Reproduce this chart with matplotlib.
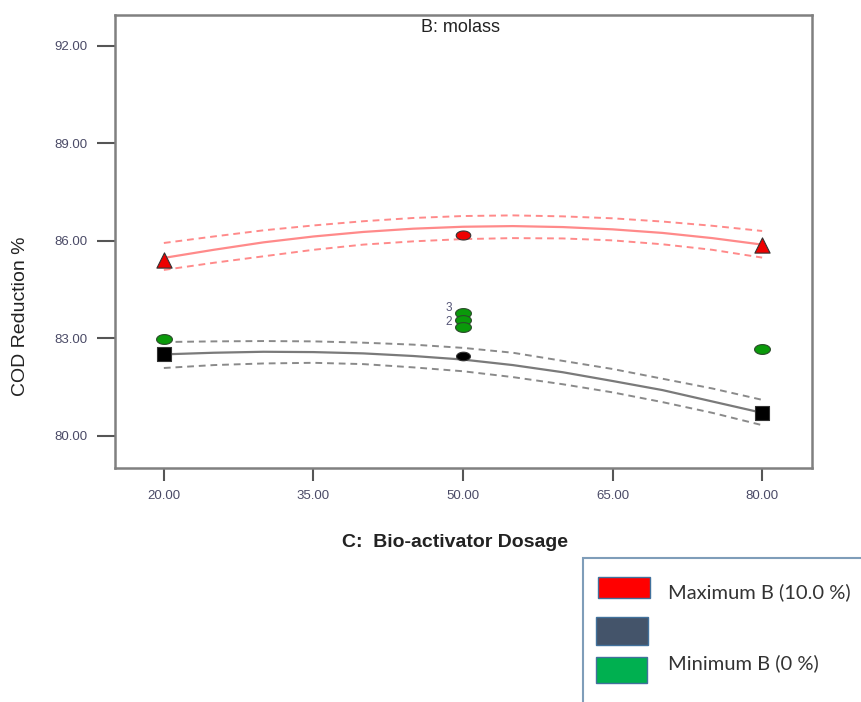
import numpy as np
import matplotlib
matplotlib.use("Agg")
import matplotlib.pyplot as plt
from matplotlib.path import Path
from matplotlib.patches import Rectangle

plt.rcParams["font.family"] = ["Liberation Sans", "DejaVu Sans"]

# model curves (C = bio-activator dosage)
dose = [20, 25, 30, 35, 40, 45, 50, 55, 60, 65, 70, 75, 80]
max_fit = [85.47, 85.72, 85.95, 86.13, 86.27, 86.37, 86.43, 86.45, 86.42, 86.35, 86.24, 86.08, 85.88]
max_hi = [85.93, 86.13, 86.32, 86.47, 86.60, 86.70, 86.76, 86.78, 86.75, 86.69, 86.59, 86.46, 86.30]
max_lo = [85.10, 85.32, 85.52, 85.72, 85.88, 85.98, 86.05, 86.08, 86.07, 86.01, 85.89, 85.72, 85.48]
min_fit = [82.50, 82.55, 82.58, 82.57, 82.53, 82.45, 82.34, 82.17, 81.95, 81.68, 81.40, 81.05, 80.70]
min_hi = [82.88, 82.90, 82.91, 82.90, 82.86, 82.80, 82.70, 82.55, 82.30, 82.05, 81.75, 81.45, 81.10]
min_lo = [82.08, 82.17, 82.22, 82.24, 82.20, 82.10, 81.98, 81.80, 81.58, 81.33, 81.03, 80.70, 80.32]

# design points
red_tri_x = [20, 80]
red_tri_y = [85.42, 85.88]
red_pt_x = [50]
red_pt_y = [86.18]
black_sq_x = [20, 80]
black_sq_y = [82.50, 80.70]
black_pt_x = [50]
black_pt_y = [82.45]
green_x = [20, 50, 50, 50, 80]
green_y = [82.97, 83.78, 83.57, 83.35, 82.68]

yticks = [80, 83, 86, 89, 92]
xticks = [20, 35, 50, 65, 80]

# flat ellipse marker
t = np.linspace(0, 2 * np.pi, 40)
ellipse = Path(np.column_stack([np.cos(t), 0.62 * np.sin(t)]), closed=True)

fig = plt.figure(figsize=(8.62, 7.02), dpi=100)
ax = fig.add_axes([0.1334, 0.3333, 0.8086, 0.6453])

dash = (0, (3.5, 2.5))
ax.plot(dose, max_fit, color="#ff8a8a", lw=1.6, zorder=2)
ax.plot(dose, max_hi, color="#ff8a8a", lw=1.4, ls=dash, zorder=2)
ax.plot(dose, max_lo, color="#ff8a8a", lw=1.4, ls=dash, zorder=2)
ax.plot(dose, min_fit, color="#7a7a7a", lw=1.6, zorder=2)
ax.plot(dose, min_hi, color="#8a8a8a", lw=1.4, ls=dash, zorder=2)
ax.plot(dose, min_lo, color="#8a8a8a", lw=1.4, ls=dash, zorder=2)

ax.scatter(red_tri_x, red_tri_y, marker="^", s=120, color="#ee0000", edgecolor="#333333", lw=0.8, zorder=4)
ax.scatter(red_pt_x, red_pt_y, marker=ellipse, s=110, color="#ee0000", edgecolor="#333333", lw=0.8, zorder=4)
ax.scatter(black_sq_x, black_sq_y, marker="s", s=110, color="black", edgecolor="#333333", lw=0.8, zorder=4)
ax.scatter(black_pt_x, black_pt_y, marker=ellipse, s=100, color="black", edgecolor="#333333", lw=0.8, zorder=4)
ax.scatter(green_x, green_y, marker=ellipse, s=130, color="#0a9a0a", edgecolor="#2a4a2a", lw=0.8, zorder=4)

ax.text(48.6, 83.92, "3", fontsize=8.5, color="#555577", ha="center", va="center")
ax.text(48.6, 83.50, "2", fontsize=8.5, color="#555577", ha="center", va="center")

ax.set_xlim(15.1, 85.0)
ax.set_ylim(79.0, 92.95)
ax.set_xticks(xticks)
ax.set_xticklabels([f"{v:.2f}" for v in xticks])
ax.set_yticks(yticks)
ax.set_yticklabels([f"{v:.2f}" for v in yticks])
ax.tick_params(axis="y", length=13, width=1.5, color="#555555", pad=7, labelsize=9.5, labelcolor="#4a4a66")
ax.tick_params(axis="x", length=9.5, width=1.5, color="#555555", pad=6, labelsize=9.5, labelcolor="#4a4a66")
for s in ax.spines.values():
    s.set_color("#808080")
    s.set_linewidth(1.8)

fig.text(0.534, 1 - 28 / 702, "B: molass", ha="center", va="center", fontsize=13, color="#222222")

fig.text(0.024, 0.55, "COD Reduction %", rotation=90, ha="center", va="center", fontsize=14, color="#222222")
fig.text(0.528, 0.227, "C:  Bio-activator Dosage", ha="center", va="center", fontsize=14, weight="bold", color="#222222")

# legend box drawn as in the source
fig.patches.append(Rectangle((583 / 862, -0.01), 0.33, 1 - 558 / 702 + 0.01, transform=fig.transFigure,
                             facecolor="white", edgecolor="#7f9db9", lw=1.5))
fig.patches.append(Rectangle((598 / 862, 1 - 598 / 702), 52 / 862, 21 / 702, transform=fig.transFigure,
                             facecolor="#ff0000", edgecolor="#41719c", lw=1))
fig.patches.append(Rectangle((596 / 862, 1 - 645 / 702), 52 / 862, 28 / 702, transform=fig.transFigure,
                             facecolor="#44546a", edgecolor="#41719c", lw=1))
fig.patches.append(Rectangle((596 / 862, 1 - 683 / 702), 51 / 862, 26 / 702, transform=fig.transFigure,
                             facecolor="#00b050", edgecolor="#41719c", lw=1))
fig.text(668 / 862, 1 - 592 / 702, "Maximum B (10.0 %)", ha="left", va="center", fontsize=14.5, family="Lato", color="#333333")
fig.text(668 / 862, 1 - 663 / 702, "Minimum B (0 %)", ha="left", va="center", fontsize=14.5, family="Lato", color="#333333")

fig.savefig("out.png", dpi=100)
